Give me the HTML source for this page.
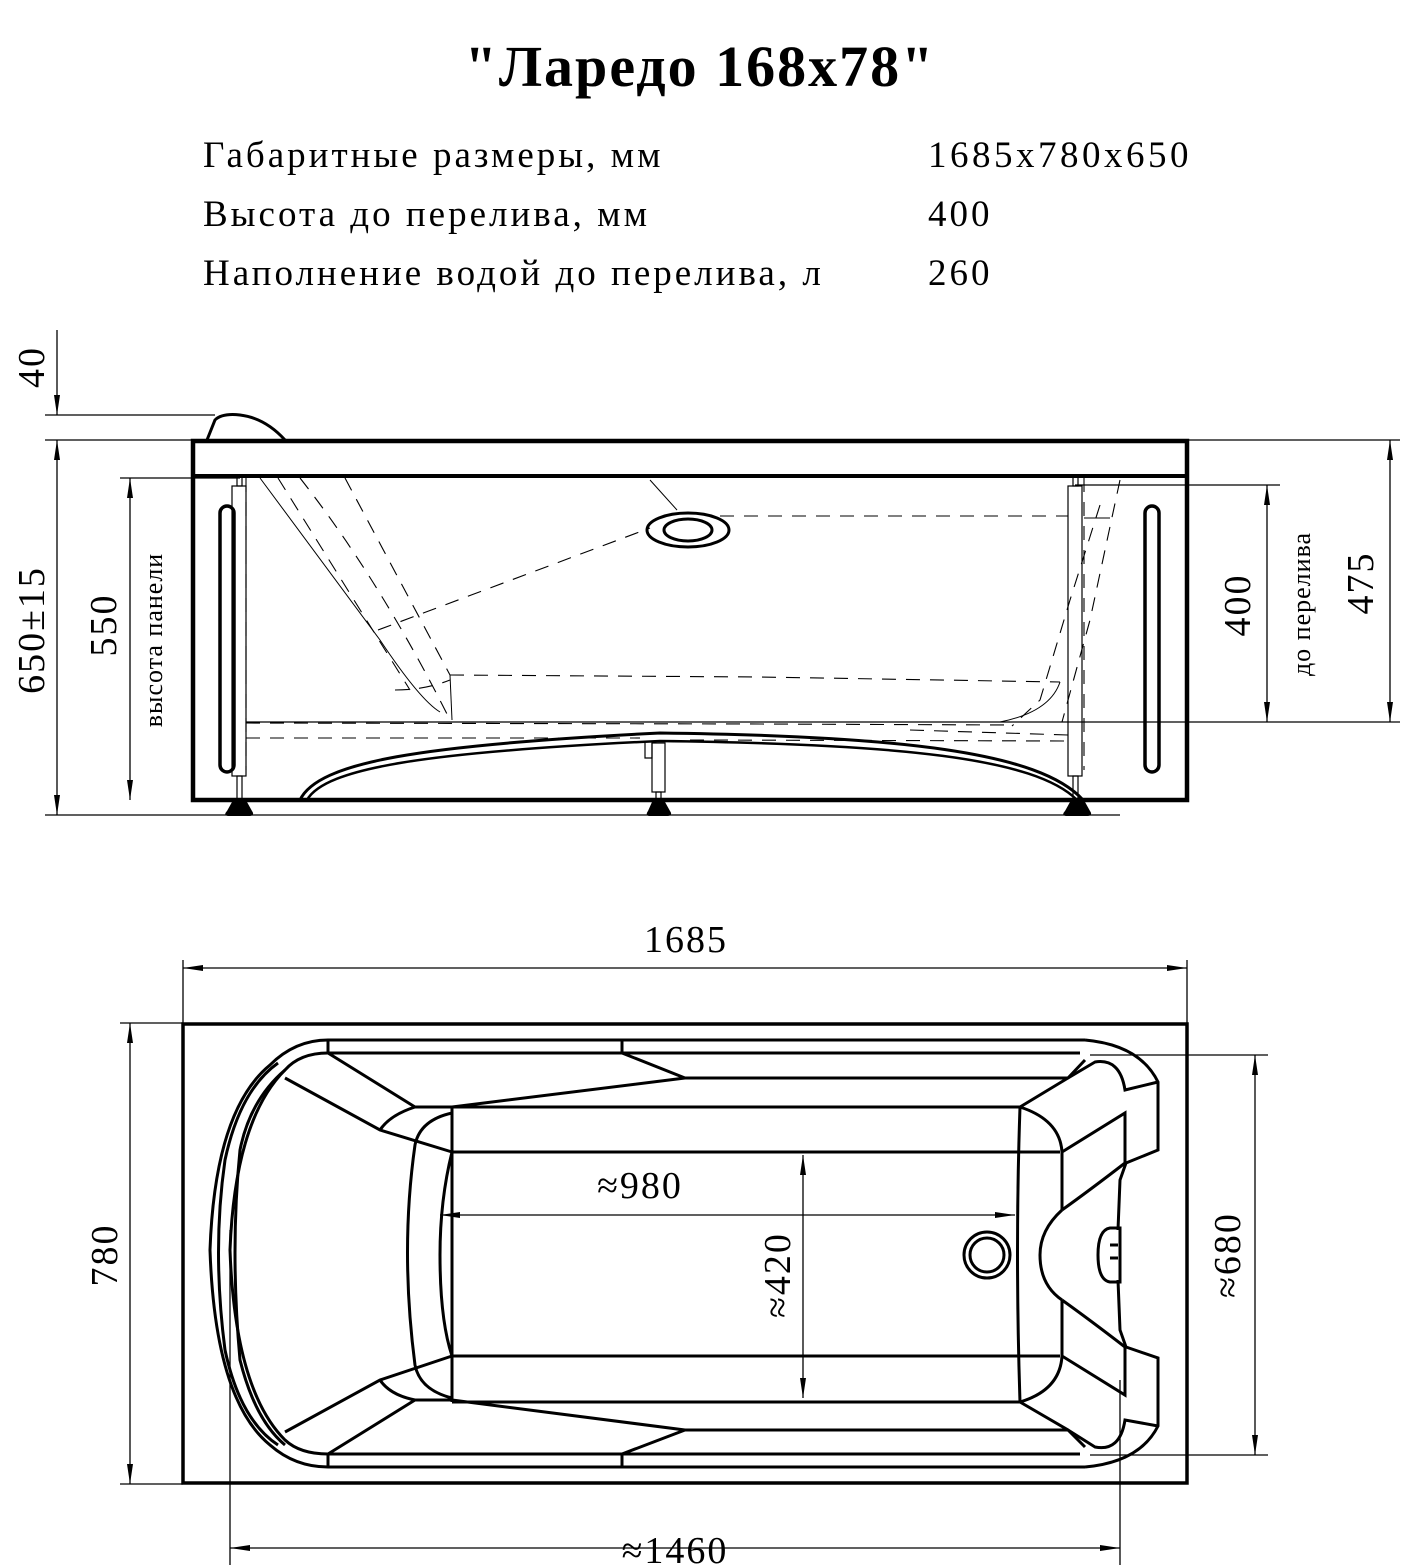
<!DOCTYPE html>
<html><head><meta charset="utf-8"><style>
html,body{margin:0;padding:0;background:#fff}
svg{display:block}
text{font-family:"Liberation Serif",serif;fill:#000}
</style></head><body>
<svg width="1403" height="1568" viewBox="0 0 1403 1568" xmlns="http://www.w3.org/2000/svg">
<defs>
<marker id="a" viewBox="0 0 20 8" refX="20" refY="4" markerWidth="20" markerHeight="8" markerUnits="userSpaceOnUse" orient="auto-start-reverse"><path d="M0,1 L20,4 L0,7 Z" fill="#000"/></marker>
</defs>
<text x="700" y="86" font-size="58" font-weight="bold" text-anchor="middle" letter-spacing="2">"Ларедо 168х78"</text>
<g font-size="37" letter-spacing="3">
<text x="203" y="167">Габаритные размеры, мм</text>
<text x="928" y="167" letter-spacing="3.5">1685х780х650</text>
<text x="203" y="226">Высота до перелива, мм</text>
<text x="928" y="226">400</text>
<text x="203" y="285">Наполнение водой до перелива, л</text>
<text x="928" y="285">260</text>
</g>

<!-- SIDE VIEW -->
<g fill="none" stroke="#000">
<g stroke-width="1.3">
<line x1="45" y1="415" x2="215" y2="415"/>
<line x1="45" y1="440" x2="195" y2="440"/>
<line x1="45" y1="815" x2="1120" y2="815"/>
<line x1="57" y1="330" x2="57" y2="415" marker-end="url(#a)"/>
<line x1="57" y1="440" x2="57" y2="815" marker-start="url(#a)" marker-end="url(#a)"/>
<line x1="120" y1="478" x2="240" y2="478"/>
<line x1="130" y1="478" x2="130" y2="800" marker-start="url(#a)" marker-end="url(#a)"/>
<line x1="1187" y1="440" x2="1400" y2="440"/>
<line x1="246" y1="722" x2="1400" y2="722"/>
<line x1="1390" y1="440" x2="1390" y2="722" marker-start="url(#a)" marker-end="url(#a)"/>
<line x1="1075" y1="485" x2="1280" y2="485"/>
<line x1="1267" y1="485" x2="1267" y2="722" marker-start="url(#a)" marker-end="url(#a)"/>
</g>
<path d="M207,440 L215,420 Q222,413 240,415 Q265,418 285,440" stroke-width="3"/>
<rect x="193" y="441" width="994" height="359" stroke-width="4.5"/>
<line x1="193" y1="476" x2="1187" y2="476" stroke-width="4"/>
<rect x="220" y="506" width="14" height="266" rx="7" stroke-width="3.5"/>
<rect x="1145" y="506" width="14" height="266" rx="7" stroke-width="3.5"/>
<g stroke-width="1.2">
<rect x="232" y="486" width="14" height="290"/><rect x="237" y="477" width="5" height="9"/><rect x="237" y="776" width="5" height="24"/>
<rect x="1068" y="486" width="14" height="290"/><rect x="1073" y="477" width="5" height="9"/><rect x="1073" y="776" width="5" height="24"/>
<rect x="652" y="743" width="13" height="49"/><rect x="656" y="792" width="5" height="8"/><path d="M652,743 V758 H645 V743"/>
</g>
<g fill="#000" stroke="none">
<path d="M232,802 L247,802 L252,811 Q255,815 250,816 L228,816 Q223,815 227,811 Z"/>
<path d="M652,802 L665,802 L670,811 Q673,815 668,816 L649,816 Q645,815 648,811 Z"/>
<path d="M1070,802 L1085,802 L1090,811 Q1093,815 1088,816 L1066,816 Q1061,815 1065,811 Z"/>
</g>
<ellipse cx="688" cy="530" rx="41" ry="17" stroke-width="3"/>
<ellipse cx="688" cy="530" rx="24" ry="11" stroke-width="3"/>
<path d="M300,800 C318,762 420,745 660,733 C900,736 1040,752 1083,800" stroke-width="3"/>
<path d="M307,800 C325,768 425,752 660,741 C900,744 1035,758 1077,800" stroke-width="2.5"/>
<g stroke-width="1.1" stroke-dasharray="14,10">
<line x1="720" y1="516" x2="1068" y2="516"/>
<path d="M450,675 L760,677 L1060,682"/>
<path d="M246,723 L760,724 L1010,725"/>
<path d="M246,738 L640,738"/>
<path d="M690,740 L1068,741"/>
<path d="M910,730 L1068,735"/>
<line x1="246" y1="478" x2="246" y2="770"/>
<line x1="1084" y1="478" x2="1084" y2="770"/>
<path d="M278,478 L410,690"/>
<path d="M300,478 Q380,580 450,720"/>
<path d="M345,478 L450,675"/>
<path d="M378,630 L650,528"/>
<path d="M1120,480 L1090,620 L1062,722"/>
<path d="M1100,505 L1070,600 L1040,700 L1012,726"/>
<path d="M395,690 Q425,690 450,680"/>
</g>
<g stroke-width="1"><path d="M260,478 L380,640 Q420,700 440,712"/><path d="M650,480 L677,510"/><path d="M450,675 L452,720"/><path d="M1060,682 Q1050,712 1000,722"/><path d="M1084,518 L1110,518"/></g>
</g>
<g font-size="38" letter-spacing="2">
<text transform="translate(44,367) rotate(-90)" text-anchor="middle">40</text>
<text transform="translate(44,630) rotate(-90)" text-anchor="middle">650±15</text>
<text transform="translate(116,625) rotate(-90)" text-anchor="middle">550</text>
<text transform="translate(1250,605) rotate(-90)" text-anchor="middle">400</text>
<text transform="translate(1373,583) rotate(-90)" text-anchor="middle">475</text>
</g>
<g font-size="26" letter-spacing="1">
<text transform="translate(162,640) rotate(-90)" text-anchor="middle">высота панели</text>
<text transform="translate(1310,604) rotate(-90)" text-anchor="middle">до перелива</text>
</g>

<!-- TOP VIEW -->
<g fill="none" stroke="#000">
<g stroke-width="1.3">
<line x1="183" y1="960" x2="183" y2="1023"/><line x1="1187" y1="960" x2="1187" y2="1023"/>
<line x1="183" y1="968" x2="1187" y2="968" marker-start="url(#a)" marker-end="url(#a)"/>
<line x1="120" y1="1023" x2="183" y2="1023"/><line x1="120" y1="1484" x2="183" y2="1484"/>
<line x1="130" y1="1023" x2="130" y2="1484" marker-start="url(#a)" marker-end="url(#a)"/>
<line x1="230" y1="1230" x2="230" y2="1565"/><line x1="1120" y1="1380" x2="1120" y2="1565"/>
<line x1="230" y1="1548" x2="1120" y2="1548" marker-start="url(#a)" marker-end="url(#a)"/>
<line x1="1090" y1="1055" x2="1268" y2="1055"/><line x1="1090" y1="1455" x2="1268" y2="1455"/>
<line x1="1255" y1="1055" x2="1255" y2="1455" marker-start="url(#a)" marker-end="url(#a)"/>
<line x1="440" y1="1215" x2="1015" y2="1215" marker-start="url(#a)" marker-end="url(#a)"/>
<line x1="803" y1="1155" x2="803" y2="1398" marker-start="url(#a)" marker-end="url(#a)"/>
</g>
<rect x="183" y="1024" width="1004" height="459" stroke-width="3.5"/>
<g stroke-width="3">
<path d="M328,1040 L1085,1040"/><path d="M328,1053 L1080,1053"/>
<path d="M328,1467 L1085,1467"/><path d="M328,1454 L1080,1454"/>
<line x1="328" y1="1040" x2="328" y2="1053"/><line x1="328" y1="1454" x2="328" y2="1467"/>
<line x1="622" y1="1040" x2="622" y2="1053"/><line x1="622" y1="1454" x2="622" y2="1467"/>
<path d="M328,1040 Q295,1040 270,1065 Q215,1110 210,1250 Q215,1400 270,1445 Q295,1467 328,1467"/>
<path d="M328,1053 Q300,1053 285,1070 Q235,1120 230,1250 Q235,1390 285,1440 Q300,1454 328,1454"/>
<path d="M278,1063 Q240,1090 225,1160 Q212,1250 225,1350 Q240,1420 278,1445"/>
<path d="M285,1070 Q250,1100 240,1150 Q230,1250 240,1360 Q255,1420 285,1445"/>
<path d="M328,1053 L415,1107 L452,1107"/>
<path d="M328,1454 L415,1400 L452,1400"/>
<path d="M285,1078 L380,1130 L452,1152"/>
<path d="M285,1432 L380,1380 L452,1356"/>
<path d="M415,1107 Q390,1115 380,1130"/>
<path d="M415,1400 Q390,1395 380,1380"/>
<path d="M452,1107 L452,1402"/>
<path d="M452,1113 Q420,1120 415,1145 Q400,1250 415,1365 Q420,1390 452,1398"/>
<path d="M452,1152 Q440,1200 440,1255 Q440,1320 452,1356"/>
<path d="M622,1053 L685,1078 L452,1107"/>
<path d="M622,1454 L685,1430 L452,1400"/>
<path d="M452,1107 L1020,1107"/><path d="M452,1152 L1060,1152"/>
<path d="M452,1356 L1060,1356"/><path d="M452,1402 L1020,1402"/>
<path d="M685,1078 L1068,1078"/><path d="M685,1430 L1068,1430"/>
<path d="M1020,1107 Q1015,1250 1020,1402"/>
<path d="M1020,1107 L1068,1078 L1085,1060"/>
<path d="M1020,1402 L1068,1430 L1085,1447"/>
<path d="M1020,1107 Q1060,1120 1062,1152 L1062,1210"/>
<path d="M1020,1402 Q1060,1390 1062,1356 L1062,1300"/>
<path d="M1085,1040 Q1140,1045 1158,1082 L1158,1150 L1126,1163 L1120,1180 L1118,1230"/>
<path d="M1085,1467 Q1140,1462 1158,1426 L1158,1358 L1126,1347 L1120,1330 L1118,1280"/>
<path d="M1068,1078 L1095,1062 Q1120,1058 1125,1090 L1158,1082"/>
<path d="M1068,1430 L1095,1447 Q1120,1452 1125,1420 L1158,1426"/>
<path d="M1062,1152 L1125,1113 L1125,1163"/>
<path d="M1062,1356 L1125,1395 L1125,1347"/>
<path d="M1062,1210 Q1040,1230 1040,1255 Q1040,1285 1062,1300"/>
<path d="M1062,1210 Q1090,1190 1125,1163"/>
<path d="M1062,1300 Q1090,1320 1125,1347"/>
<path d="M1110,1228 Q1098,1230 1098,1255 Q1098,1280 1110,1282 L1120,1282 L1120,1228 Z"/>
<line x1="1110" y1="1245" x2="1118" y2="1245"/><line x1="1110" y1="1258" x2="1118" y2="1258"/>
<circle cx="987" cy="1255" r="23"/><circle cx="987" cy="1255" r="17"/>
</g>
</g>
<g font-size="38" letter-spacing="2">
<text x="686" y="952" text-anchor="middle">1685</text>
<text x="640" y="1198" text-anchor="middle">≈980</text>
<text x="675" y="1563" text-anchor="middle">≈1460</text>
<text transform="translate(117,1255) rotate(-90)" text-anchor="middle">780</text>
<text transform="translate(790,1275) rotate(-90)" text-anchor="middle">≈420</text>
<text transform="translate(1240,1255) rotate(-90)" text-anchor="middle">≈680</text>
</g>
</svg>
</body></html>
